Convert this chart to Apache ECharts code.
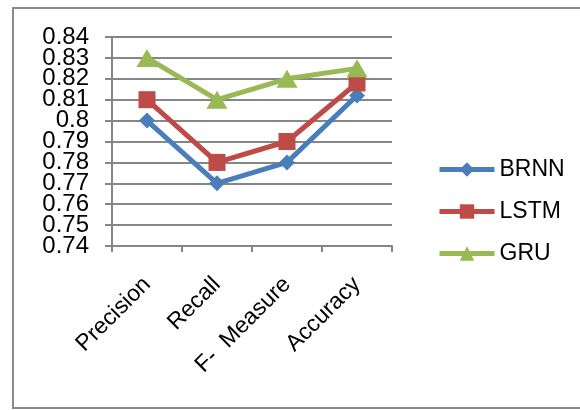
<!DOCTYPE html>
<html>
<head>
<meta charset="utf-8">
<script src="https://cdn.jsdelivr.net/npm/echarts@6/dist/echarts.min.js"></script>
<style>
  html, body { margin: 0; padding: 0; background: #fff; }
  #chart { width: 580px; height: 410px; }
</style>
</head>
<body>
<div id="chart"></div>
<script>
// Metric categories and model scores
const categories = ['Precision', 'Recall', 'F-  Measure', 'Accuracy'];
const brnn = [0.80, 0.77, 0.78, 0.812];
const lstm = [0.81, 0.78, 0.79, 0.818];
const gru = [0.83, 0.81, 0.82, 0.825];
// Value-axis tick labels
const yTicks = ['0.74', '0.75', '0.76', '0.77', '0.78', '0.79', '0.8', '0.81', '0.82', '0.83', '0.84'];

const chart = echarts.init(document.getElementById('chart'));
const font = '"Liberation Sans", Arial, Helvetica, sans-serif';
const axisGray = '#868686';

function series(name, data, color, symbol, size) {
  return {
    name: name,
    type: 'line',
    data: data,
    symbol: symbol,
    symbolSize: size,
    lineStyle: { color: color, width: 5 },
    itemStyle: { color: color },
    z: 3
  };
}

const border = {
  type: 'rect',
  shape: { x: 13, y: 8, width: 600, height: 400 },
  style: { fill: 'none', stroke: '#8a8a8a', lineWidth: 2 },
  silent: true
};

chart.setOption({
  animation: false,
  backgroundColor: '#fff',
  textStyle: { fontFamily: font },
  graphic: [border],
  grid: { left: 112, top: 37, width: 280, height: 209 },
  xAxis: {
    type: 'category',
    data: categories,
    boundaryGap: true,
    axisLine: { lineStyle: { color: axisGray, width: 2 } },
    axisTick: { show: true, length: 6, lineStyle: { color: axisGray, width: 2 } },
    axisLabel: { rotate: 45, fontSize: 23, color: '#000', margin: 35, fontFamily: font }
  },
  yAxis: {
    type: 'value',
    min: Number(yTicks[0]),
    max: Number(yTicks[yTicks.length - 1]),
    interval: 0.01,
    axisLine: { show: true, lineStyle: { color: axisGray, width: 2 } },
    axisTick: { show: true, length: 7, lineStyle: { color: axisGray, width: 2 } },
    splitLine: { show: true, lineStyle: { color: axisGray, width: 2 } },
    // Labels are tightly packed, so they are placed as text elements below
    axisLabel: { show: false }
  },
  legend: {
    orient: 'vertical',
    left: 432,
    top: 153,
    itemWidth: 55,
    itemHeight: 18,
    itemGap: 19,
    lineStyle: { width: 5 },
    textStyle: { fontSize: 23, color: '#000', fontFamily: font },
    data: ['BRNN', 'LSTM', 'GRU']
  },
  series: [
    series('BRNN', brnn, '#4A7EBB', 'diamond', 16),
    series('LSTM', lstm, '#BE4B48', 'rect', 17),
    series('GRU', gru, '#98B954', 'triangle', [21, 18])
  ]
});

// Value-axis labels positioned through the axis scale
const axisX = chart.convertToPixel({ xAxisIndex: 0 }, categories[0]) - 35;
const labelEls = yTicks.map(t => ({
  type: 'text',
  x: axisX - 23,
  y: chart.convertToPixel({ yAxisIndex: 0 }, Number(t)),
  style: {
    text: t, fontSize: 24, fontFamily: font, fill: '#000',
    align: 'right', verticalAlign: 'middle'
  },
  silent: true
}));
chart.setOption({ graphic: [border].concat(labelEls) });
</script>
</body>
</html>
